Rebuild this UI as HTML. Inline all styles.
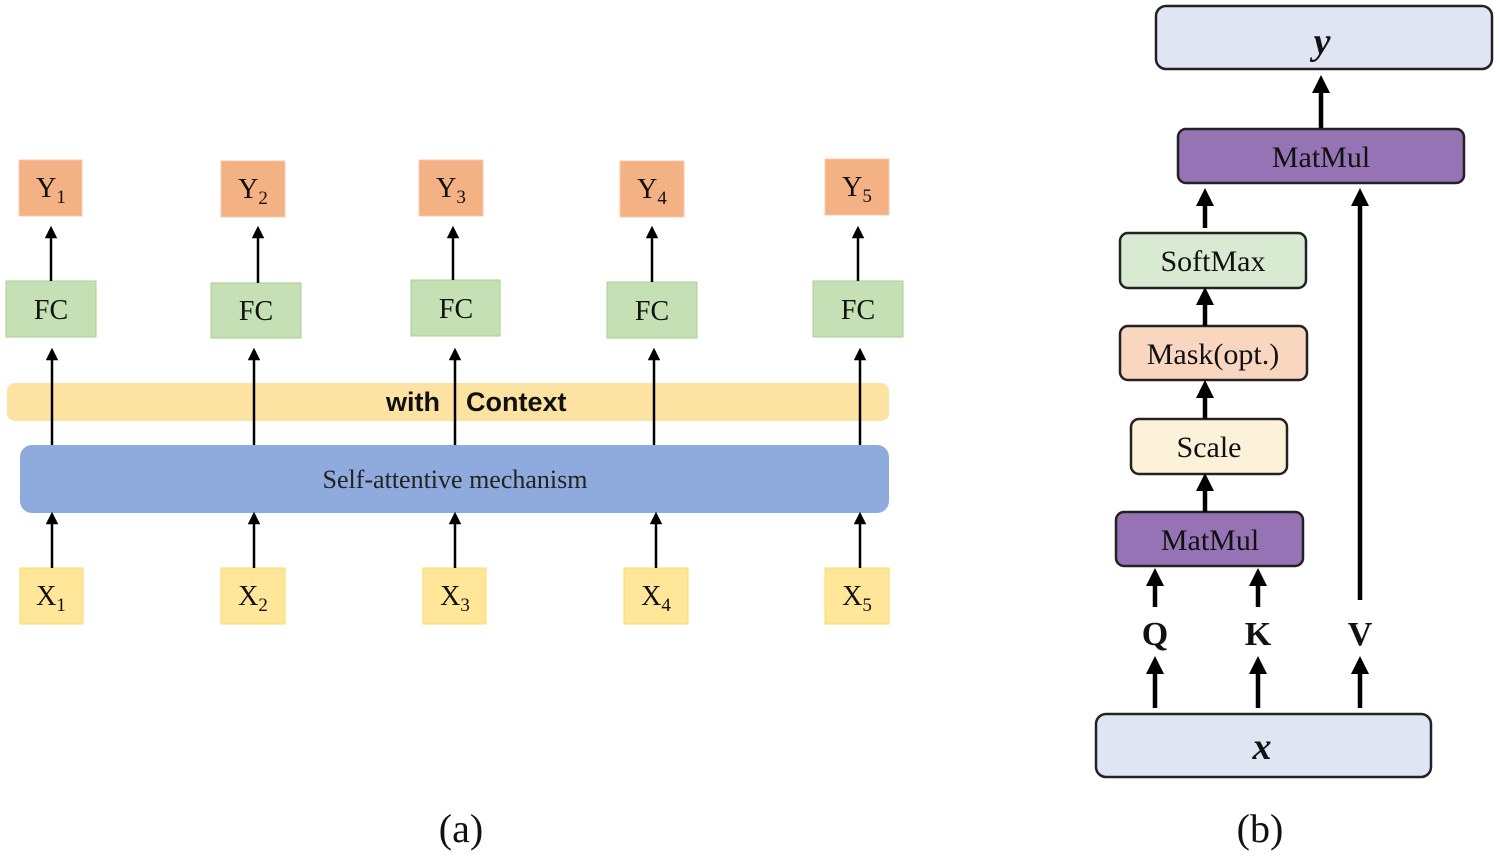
<!DOCTYPE html>
<html><head><meta charset="utf-8"><style>
html,body{margin:0;padding:0;background:#fff;width:1500px;height:856px;overflow:hidden}
svg{display:block}
svg text{font-family:"Liberation Serif","Times New Roman",Times,"DejaVu Serif",serif}
svg text.sans{font-family:"Liberation Sans",Arial,sans-serif}
</style></head><body>
<svg width="1500" height="856" viewBox="0 0 1500 856" xmlns="http://www.w3.org/2000/svg">
<defs>
<marker id="a" viewBox="0 0 10 10" refX="5" refY="5" markerWidth="5" markerHeight="5" orient="auto"><path d="M0,0 L10,5 L0,10 z" fill="#000"/></marker>
<marker id="b" viewBox="0 0 10 10" refX="5" refY="5" markerWidth="4" markerHeight="4" orient="auto"><path d="M0,0 L10,5 L0,10 z" fill="#000"/></marker>
</defs>
<rect x="7" y="383" width="882" height="38" rx="8" fill="#fde3a2"/>
<text class="sans" x="440" y="411" font-weight="bold" font-size="27" text-anchor="end" fill="#111">with</text>
<text class="sans" x="466" y="411" font-weight="bold" font-size="27" fill="#111">Context</text>
<rect x="20" y="445" width="869" height="68" rx="12" fill="#8faadc"/>
<text x="455" y="488" font-size="26" text-anchor="middle" fill="#222">Self-attentive mechanism</text>
<g fill="#f4b183" stroke="#f8cbad" stroke-width="1">
<rect x="19" y="160" width="63" height="56"/><rect x="221" y="161" width="64" height="56"/><rect x="419" y="160" width="64" height="56"/><rect x="620" y="161" width="64" height="56"/><rect x="825" y="159" width="64" height="56"/>
</g>
<g fill="#c5e0b4" stroke="#a9d18e" stroke-width="1">
<rect x="6" y="281" width="90" height="56"/><rect x="211" y="283" width="90" height="55"/><rect x="411" y="280" width="89" height="56"/><rect x="607" y="282" width="90" height="56"/><rect x="813" y="281" width="90" height="56"/>
</g>
<g fill="#ffe699" stroke="#ffd966" stroke-width="1">
<rect x="20" y="568" width="63" height="56"/><rect x="221" y="568" width="64" height="56"/><rect x="423" y="568" width="63" height="56"/><rect x="624" y="568" width="64" height="56"/><rect x="825" y="568" width="64" height="56"/>
</g>
<g font-size="28" fill="#111" text-anchor="middle">
<text x="51" y="197">Y<tspan font-size="19" dy="6">1</tspan></text>
<text x="253" y="198">Y<tspan font-size="19" dy="6">2</tspan></text>
<text x="451" y="197">Y<tspan font-size="19" dy="6">3</tspan></text>
<text x="652" y="198">Y<tspan font-size="19" dy="6">4</tspan></text>
<text x="857" y="196">Y<tspan font-size="19" dy="6">5</tspan></text>
<text x="51" y="319">FC</text><text x="256" y="320">FC</text><text x="456" y="318">FC</text><text x="652" y="320">FC</text><text x="858" y="319">FC</text>
<text x="51" y="605">X<tspan font-size="19" dy="6">1</tspan></text>
<text x="253" y="605">X<tspan font-size="19" dy="6">2</tspan></text>
<text x="455" y="605">X<tspan font-size="19" dy="6">3</tspan></text>
<text x="656" y="605">X<tspan font-size="19" dy="6">4</tspan></text>
<text x="857" y="605">X<tspan font-size="19" dy="6">5</tspan></text>
</g>
<g stroke="#000" stroke-width="2.5" marker-end="url(#a)">
<line x1="51" y1="281" x2="51" y2="232"/><line x1="258" y1="283" x2="258" y2="232"/><line x1="453" y1="280" x2="453" y2="232"/><line x1="652" y1="282" x2="652" y2="232"/><line x1="858" y1="281" x2="858" y2="232"/>
<line x1="52" y1="445" x2="52" y2="354"/><line x1="254" y1="445" x2="254" y2="354"/><line x1="455" y1="445" x2="455" y2="354"/><line x1="654" y1="445" x2="654" y2="354"/><line x1="860" y1="445" x2="860" y2="354"/>
<line x1="52" y1="568" x2="52" y2="518"/><line x1="254" y1="568" x2="254" y2="518"/><line x1="455" y1="568" x2="455" y2="518"/><line x1="656" y1="568" x2="656" y2="518"/><line x1="860" y1="568" x2="860" y2="518"/>
</g>
<text x="461" y="842" font-size="40" text-anchor="middle" fill="#111">(a)</text>
<g stroke="#222" stroke-width="2.5">
<rect x="1156" y="6" width="336" height="63" rx="10" fill="#dfe5f3"/>
<rect x="1178" y="129" width="286" height="54" rx="8" fill="#9673b4"/>
<rect x="1120" y="233" width="186" height="55" rx="8" fill="#d8ead2"/>
<rect x="1120" y="326" width="187" height="54" rx="8" fill="#f9d6c0"/>
<rect x="1131" y="419" width="156" height="55" rx="8" fill="#fcf2d9"/>
<rect x="1116" y="512" width="187" height="54" rx="8" fill="#9673b4"/>
<rect x="1096" y="714" width="335" height="63" rx="10" fill="#dfe5f3"/>
</g>
<g font-size="30" fill="#111" text-anchor="middle">
<text x="1322" y="54" font-style="italic" font-weight="bold" font-size="38">y</text>
<text x="1321" y="167">MatMul</text>
<text x="1213" y="271">SoftMax</text>
<text x="1213" y="364">Mask(opt.)</text>
<text x="1209" y="457">Scale</text>
<text x="1210" y="550">MatMul</text>
<text x="1262" y="759" font-style="italic" font-weight="bold" font-size="38">x</text>
<text x="1155" y="645" font-weight="bold" font-size="34">Q</text>
<text x="1258" y="645" font-weight="bold" font-size="34">K</text>
<text x="1360" y="645" font-weight="bold" font-size="34">V</text>
</g>
<g stroke="#000" stroke-width="4.5" marker-end="url(#b)">
<line x1="1321" y1="128" x2="1321" y2="84"/>
<line x1="1205" y1="228" x2="1205" y2="197"/>
<line x1="1360" y1="600" x2="1360" y2="197"/>
<line x1="1205" y1="326" x2="1205" y2="296"/>
<line x1="1205" y1="419" x2="1205" y2="389"/>
<line x1="1205" y1="512" x2="1205" y2="482"/>
<line x1="1155" y1="607" x2="1155" y2="577"/>
<line x1="1258" y1="607" x2="1258" y2="577"/>
<line x1="1155" y1="708" x2="1155" y2="665"/>
<line x1="1258" y1="708" x2="1258" y2="665"/>
<line x1="1360" y1="708" x2="1360" y2="665"/>
</g>
<text x="1260" y="842" font-size="40" text-anchor="middle" fill="#111">(b)</text>
</svg>
</body></html>
